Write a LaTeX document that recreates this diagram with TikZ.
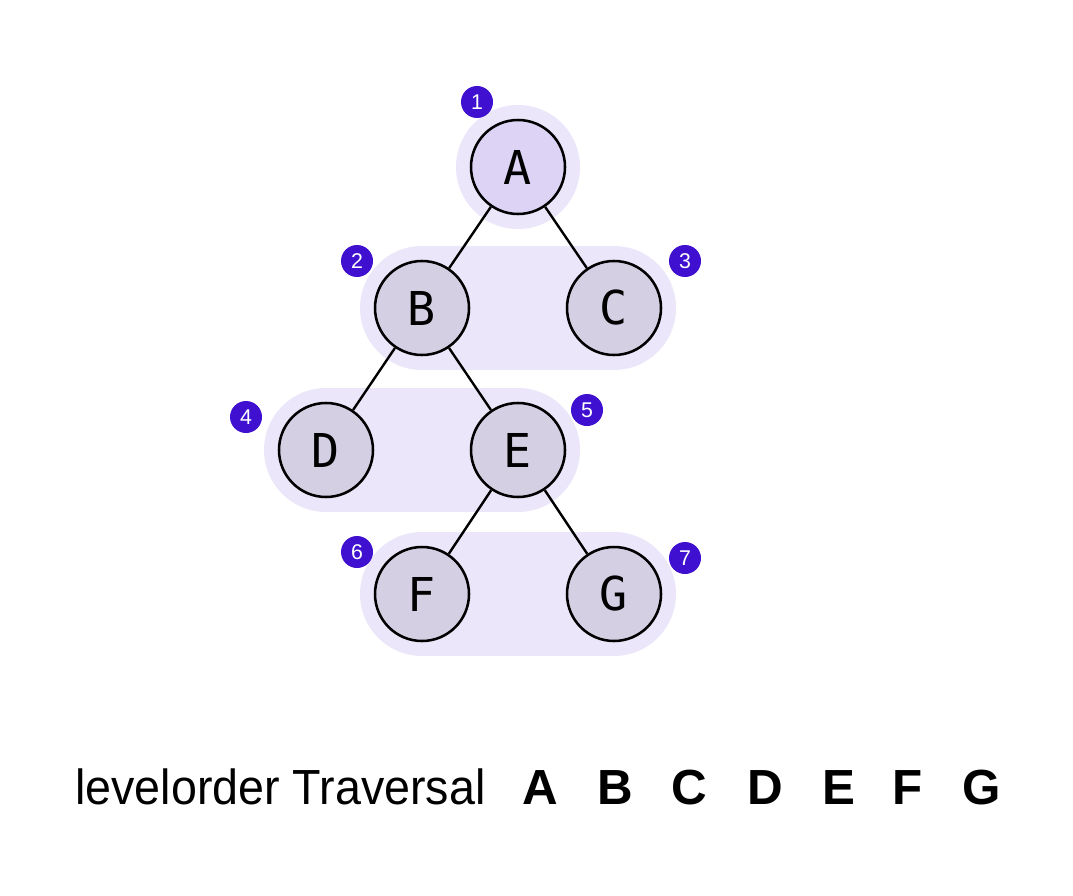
\documentclass[tikz,border=0pt]{standalone}
\usepackage{fontspec}
\setmainfont{Liberation Sans}
\newfontfamily\treemono{DejaVu Sans Mono}
\usepackage{tikz}
\usetikzlibrary{positioning, backgrounds}
\definecolor{lvlhalo}{HTML}{EBE6F9}
\definecolor{rootfill}{HTML}{DCD3F5}
\definecolor{nodefill}{HTML}{D4CFE3}
\definecolor{badgeviolet}{HTML}{4010D0}

\begin{document}
\begin{tikzpicture}[x=0.75pt, y=-0.75pt,
  tn/.style={
    circle, draw=black, line width=1.9pt, fill=nodefill,
    minimum size=70.5pt, inner sep=0pt, font=\treemono\fontsize{35}{35}\selectfont},
  badge/.style={
    circle, fill=badgeviolet, text=white, minimum size=24pt, inner sep=0pt,
    font=\fontsize{16}{16}\selectfont},
  halo/.style={lvlhalo, line width=93pt, line cap=round},
  ed/.style={line width=1.8pt},
  res/.style={font=\fontsize{37}{37}\selectfont\bfseries, anchor=base},
]
  \useasboundingbox (0,0) rectangle (1073,895);

  % tree nodes
  \node[tn, fill=rootfill] (a) at (518,167) {A};
  \node[tn] (b) at (422,308) {B};
  \node[tn] (c) at (614,308) {C};
  \node[tn] (d) at (326,450) {D};
  \node[tn] (e) at (518,450) {E};
  \node[tn] (f) at (422,594) {F};
  \node[tn] (g) at (614,594) {G};

  % level halos
  \begin{scope}[on background layer]
    \fill[lvlhalo] (a) circle[radius=62];
    \draw[halo] (b.center) -- (c.center);
    \draw[halo] (d.center) -- (e.center);
    \draw[halo] (f.center) -- (g.center);
  \end{scope}

  \draw[ed] (a) -- (b);
  \draw[ed] (a) -- (c);
  \draw[ed] (b) -- (d);
  \draw[ed] (b) -- (e);
  \draw[ed] (e) -- (f);
  \draw[ed] (e) -- (g);

  % visit order
  \node[badge] (n1) at (477,102) {1};
  \node[badge] (n2) at (357,261) {2};
  \node[badge] (n3) at (685,261) {3};
  \node[badge] (n4) at (246,417) {4};
  \node[badge] (n5) at (587,410) {5};
  \node[badge] (n6) at (357,552) {6};
  \node[badge] (n7) at (685,558) {7};

  % result row
  \node[anchor=base west, inner sep=0pt, font=\fontsize{37}{37}\selectfont] (lbl) at (75,804) {\scalebox{0.945}[1]{levelorder Traversal}};
  \node[res] (r1) at (540,804) {A};
  \node[res] (r2) at (615,804) {B};
  \node[res] (r3) at (689,804) {C};
  \node[res] (r4) at (765,804) {D};
  \node[res] (r5) at (839,804) {E};
  \node[res] (r6) at (908,804) {F};
  \node[res] (r7) at (982,804) {G};
\end{tikzpicture}
\end{document}
